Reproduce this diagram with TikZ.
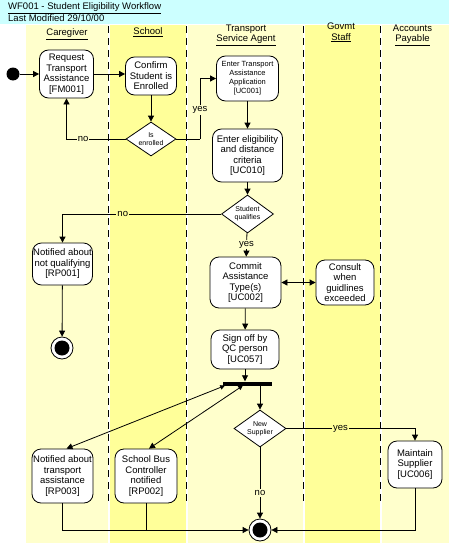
\documentclass[tikz,border=0pt]{standalone}
\usepackage{fontspec}
\setmainfont{Liberation Sans}
\usetikzlibrary{shapes.geometric,arrows.meta}
\tikzset{flowtip/.tip = {Triangle[length = 6pt, width = 6pt]}}
\tikzset{bartip/.tip = {Triangle[length = 4.5pt, width = 4.5pt]}}
\begin{document}
\begin{tikzpicture}[x = 1pt, y = -1pt,
  wire/.style = {draw = black, line width = 0.8pt},
  flow/.style = {wire, -flowtip},
  twoway/.style = {wire, bartip-flowtip},
  act/.style = {wire, fill = white, rounded corners = 9pt, inner sep = 0pt, align = center, font = \fontsize{9.5}{10.5}\selectfont},
  smallact/.style = {act, font = \fontsize{7.5}{9}\selectfont},
  choice/.style = {diamond, wire, fill = white, inner sep = 0pt, aspect = 1.5, align = center, font = \fontsize{7}{8}\selectfont},
  guard/.style = {inner sep = 1pt, font = \fontsize{9.5}{10}\selectfont},
  final/.style = {circle, wire, fill = white, minimum size = 22pt, inner sep = 0pt, path picture = {\fill [black] (path picture bounding box.center) circle (7.5pt);}},
  lanetitle/.style = {align = center, inner sep = 0pt, font = \fontsize{9.5}{10.5}\selectfont}]
\definecolor{bandcyan}{HTML}{CCFFFF}
\definecolor{lanepale}{HTML}{FFFFCC}
\definecolor{lanegold}{HTML}{FFFF99}
\pgfmathsetmacro\lanetop{25}
\pgfmathsetmacro\dashend{502}
\useasboundingbox (0,0) rectangle (449,543);
% title band and swim lanes
\fill [bandcyan] (0,0) rectangle (449,24);
\foreach \xa/\xb/\lanecol in {26/107.5/lanepale, 109.5/185.5/lanegold, 187.5/302.5/lanepale, 304.5/379.5/lanegold, 381.5/449/lanepale}
  \fill [\lanecol] (\xa,\lanetop) rectangle (\xb,543);
\foreach \xd in {108,186,303,380}
  \draw [dash pattern = on 7pt off 5pt, line width = 1pt] (\xd,\lanetop+1) -- (\xd,\dashend);
\node [anchor = north west, inner sep = 0pt, align = left, font = \fontsize{9.5}{11.5}\selectfont] (title) at (8,2.5) {\underline{WF001 - Student Eligibility Workflow}\\Last Modified 29/10/00};
\node [lanetitle] (hcare) at (67,34) {\underline{Caregiver}};
\node [lanetitle] (hschool) at (148,32) {\underline{School}};
\node [lanetitle] (htrans) at (246,35) {Transport\\\underline{Service Agent}};
\node [lanetitle] (hgov) at (341,32.5) {Govmt\\\underline{Staff}};
\node [lanetitle] (hacct) at (412.5,35) {Accounts\\\underline{Payable}};
% activities
\node [circle, fill = black, minimum size = 13pt, inner sep = 0pt] (start) at (13,74) {};
\node [act, minimum width = 54pt, minimum height = 48pt] (request) at (66.5,74) {Request\\Transport\\Assistance\\{[FM001]}};
\node [act, minimum width = 51pt, minimum height = 38pt] (confirm) at (151,76) {Confirm\\Student is\\Enrolled};
\node [choice, minimum width = 50pt, minimum height = 34pt] (isenr) at (151,139) {Is\\enrolled};
\node [smallact, minimum width = 62pt, minimum height = 45pt] (enterapp) at (247.5,78.5) {Enter Transport\\Assistance\\Application\\{[UC001]}};
\node [act, minimum width = 70pt, minimum height = 53pt] (criteria) at (247.5,155.5) {Enter eligibility\\and distance\\criteria\\{[UC010]}};
\node [choice, minimum width = 52pt, minimum height = 38pt] (qualifies) at (247.5,214) {Student\\qualifies};
\node [act, minimum width = 60pt, minimum height = 42pt] (notqual) at (62.5,264) {Notified about\\not qualifying\\{[RP001]}};
\node [final] (endA) at (62,348) {};
\node [act, minimum width = 71pt, minimum height = 51pt] (commit) at (245.5,282.5) {Commit\\Assistance\\Type(s)\\{[UC002]}};
\node [act, minimum width = 58pt, minimum height = 45pt] (consult) at (345,282.5) {Consult\\when\\guidlines\\exceeded};
\node [act, minimum width = 68pt, minimum height = 39pt] (signoff) at (245,349.5) {Sign off by\\QC person\\{[UC057]}};
\node [fill = black, minimum width = 49pt, minimum height = 4pt, inner sep = 0pt] (bar) at (247.5,383.5) {};
\node [choice, minimum width = 52pt, minimum height = 37pt] (newsup) at (260,428.5) {New\\Supplier};
\node [act, minimum width = 61pt, minimum height = 54pt] (nottrans) at (62.5,476) {Notified about\\transport\\assistance\\{[RP003]}};
\node [act, minimum width = 62pt, minimum height = 54pt] (busctl) at (146,476) {School Bus\\Controller\\notified\\{[RP002]}};
\node [act, minimum width = 54pt, minimum height = 47pt] (maintain) at (415,464.5) {Maintain\\Supplier\\{[UC006]}};
\node [final] (endB) at (260,530) {};
% transitions
\draw [flow] (start) -- (start -| request.west);
\draw [flow] (request.east) -- (request.east -| confirm.west);
\draw [flow] (confirm) -- (isenr);
\draw [flow] (isenr.west) -| node [guard, fill = lanepale, pos = 0.36] {no} (request.south);
\coordinate (yesturn) at (200,139);
\draw [wire] (isenr.east) -- (yesturn);
\draw [flow] (yesturn) |- node [guard, fill = lanepale, pos = 0.24] {yes} (enterapp.west);
\draw [flow] (enterapp) -- (criteria);
\draw [flow] (criteria) -- (qualifies);
\draw [flow] (qualifies.west) -| node [guard, fill = lanegold, pos = 0.31] {no} (notqual.north);
\draw [flow] (qualifies) -- node [guard, fill = lanepale] {yes} (commit);
\draw [flow] (notqual) -- (endA);
\draw [wire, flowtip-flowtip] (commit) -- (consult);
\draw [flow] (commit) -- (signoff);
\draw [flow] (signoff.south) -- (signoff.south |- bar.north);
\draw [flow] (bar.south -| newsup.north) -- (newsup.north);
\draw [twoway] ([xshift = 2pt]bar.south west) -- ([xshift = 4pt]nottrans.north);
\draw [twoway] ([xshift = 20pt]bar.south west) -- ([xshift = 3pt]busctl.north);
\draw [flow] (newsup.east) -| node [guard, fill = lanegold, pos = 0.21] {yes} (maintain.north);
\draw [flow] (newsup) -- node [guard, fill = lanepale, pos = 0.64] {no} (endB);
\draw [flow] (nottrans.south) |- (endB.west);
\draw [wire] (busctl.south) -- (busctl.south |- endB.west);
\draw [flow] (maintain.south) |- (endB.east);
\end{tikzpicture}
\end{document}
